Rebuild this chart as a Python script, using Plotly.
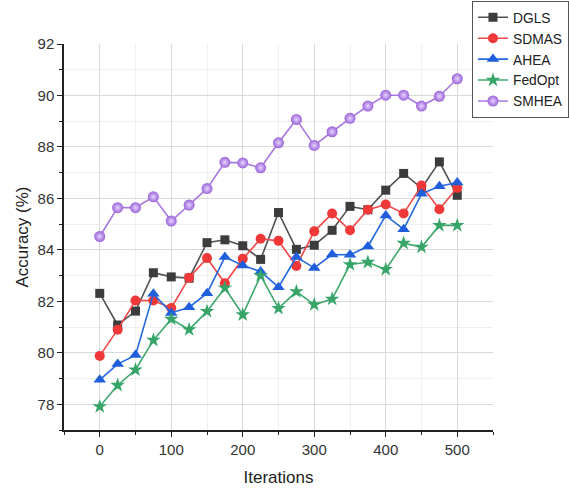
import plotly.graph_objects as go

iterations = [0, 25, 50, 75, 100, 125, 150, 175, 200, 225, 250, 275, 300, 325, 350, 375, 400, 425, 450, 475, 500]

dgls = [82.31, 81.08, 81.62, 83.11, 82.95, 82.90, 84.28, 84.39, 84.16, 83.63, 85.45, 84.02, 84.18, 84.76, 85.69, 85.56, 86.32, 86.97, 86.40, 87.42, 86.12]
sdmas = [79.88, 80.90, 82.03, 82.03, 81.74, 82.92, 83.68, 82.70, 83.65, 84.43, 84.35, 83.37, 84.72, 85.41, 84.76, 85.56, 85.76, 85.41, 86.50, 85.58, 86.41]
ahea = [78.95, 79.56, 79.91, 82.29, 81.55, 81.77, 82.31, 83.72, 83.39, 83.16, 82.55, 83.72, 83.30, 83.82, 83.81, 84.13, 85.34, 84.80, 86.18, 86.47, 86.62]
fedopt = [77.91, 78.74, 79.34, 80.49, 81.31, 80.90, 81.61, 82.52, 81.48, 83.00, 81.73, 82.38, 81.87, 82.09, 83.43, 83.52, 83.24, 84.26, 84.11, 84.95, 84.95]
smhea = [84.52, 85.64, 85.64, 86.06, 85.12, 85.74, 86.38, 87.40, 87.38, 87.19, 88.16, 89.07, 88.06, 88.59, 89.11, 89.59, 90.01, 90.01, 89.59, 89.97, 90.65]

series_names = ["DGLS", "SDMAS", "AHEA", "FedOpt", "SMHEA"]
y_ticks = [78, 80, 82, 84, 86, 88, 90, 92]
x_ticks = [0, 100, 200, 300, 400, 500]

FONT = "Arial, Liberation Sans, sans-serif"

fig = go.Figure()

styles = [
    (dgls, dict(color="#505050", width=1.6), dict(symbol="square", size=9, color="#3c3c3c")),
    (sdmas, dict(color="#f04848", width=1.6), dict(symbol="circle", size=10, color="#f03838")),
    (ahea, dict(color="#2468e0", width=1.6), dict(symbol="triangle-up", size=11, color="#1f5fdc")),
    (fedopt, dict(color="#3da86e", width=1.6), dict(symbol="star", size=11, color="#37a468")),
    (smhea, dict(color="#a878e0", width=1.6), dict(symbol="circle", size=11, color="#9a62d8",
                                                  gradient=dict(type="radial", color="#e6d4ff"))),
]

for name, (vals, line, marker) in zip(series_names, styles):
    fig.add_trace(go.Scatter(x=iterations, y=vals, mode="lines+markers", name=name,
                             line=line, marker=marker))

fig.update_layout(
    width=569, height=491,
    margin=dict(l=64, r=76, t=44, b=61, autoexpand=False),
    paper_bgcolor="white", plot_bgcolor="white",
    font=dict(family=FONT, color="#333333"),
    showlegend=True,
    legend=dict(x=0.951, y=1.112, xanchor="left", yanchor="top",
                bordercolor="#555555", borderwidth=1, bgcolor="white",
                font=dict(size=13.8, family=FONT, color="#222222"),
                tracegroupgap=0, itemwidth=30),
)

fig.update_xaxes(
    range=[-50, 550], tickvals=x_ticks, ticktext=[str(v) for v in x_ticks],
    showline=True, linecolor="#222222", linewidth=1.5,
    ticks="outside", ticklen=5, tickcolor="#222222", tickwidth=1.2,
    showgrid=True, gridcolor="#d9d9d9", gridwidth=1,
    minor=dict(dtick=50, tick0=0, showgrid=True, gridcolor="#efefef", ticks="outside",
               ticklen=3, tickcolor="#222222"),
    zeroline=False,
    tickfont=dict(size=15, color="#333333"),
    title=dict(text="Iterations", font=dict(size=17, color="#222222"), standoff=14),
)
fig.update_yaxes(
    range=[77, 92], tickvals=y_ticks, ticktext=[str(v) for v in y_ticks],
    showline=True, linecolor="#222222", linewidth=1.5,
    ticks="outside", ticklen=5, tickcolor="#222222", tickwidth=1.2,
    showgrid=True, gridcolor="#d9d9d9", gridwidth=1,
    minor=dict(dtick=1, tick0=77, showgrid=True, gridcolor="#efefef", ticks="outside",
               ticklen=3, tickcolor="#222222"),
    zeroline=False,
    tickfont=dict(size=15, color="#333333"),
    title=dict(text="Accuracy (%)", font=dict(size=17, color="#222222"), standoff=5),
)

fig.write_html("out.html", config={"displayModeBar": False},
               post_script="document.body.style.margin='0';")
